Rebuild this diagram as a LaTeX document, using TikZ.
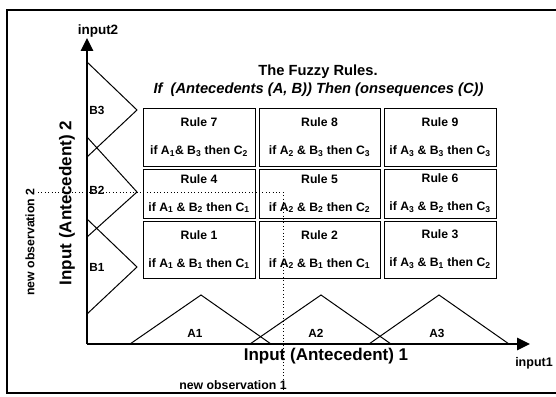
\documentclass[tikz,border=0pt]{standalone}
\usepackage{fontspec}
\setmainfont{Liberation Sans}
\usetikzlibrary{arrows.meta, positioning}

% premise of one fuzzy rule
\newcommand{\premise}[3]{if A\textsubscript{#1} \& B\textsubscript{#2} then C\textsubscript{#3}}

\begin{document}
\begin{tikzpicture}[x=1pt, y=-1pt,
  % ---- styles ----
  rulecell/.style 2 args={%
    draw=black, line width=1pt, minimum width=#1, minimum height=#2,
    inner sep=0pt, align=center, outer sep=0pt,
    font=\fontsize{12.2}{28}\selectfont\bfseries,
  },
  axisline/.style={line width=1.4pt, -{Triangle[length=13pt, width=12.5pt]}},
  mfline/.style={line width=1pt},
  obsline/.style={line width=0.9pt, dash pattern=on 1pt off 2.4pt},
  setlabel/.style={font=\fontsize{11.8}{13}\selectfont\bfseries, inner sep=1pt},
  axislabel/.style={font=\fontsize{17}{20}\selectfont\bfseries, inner sep=0pt},
  obslabel/.style={font=\fontsize{12.3}{14}\selectfont\bfseries, inner sep=0pt},
  inlabel/.style={font=\fontsize{12.5}{14}\selectfont\bfseries, inner sep=0pt},
  titlelabel/.style={font=\fontsize{14.7}{17}\selectfont\bfseries, inner sep=0pt},
]

\def\cwa{112pt}   % outer column width
\def\cwb{121pt}   % middle column width

\useasboundingbox (0,0) rectangle (556,396);

% ---- frame (right side runs off the page) ----
\draw[line width=2.5pt] (560,10) -- (7,10) -- (7,393) -- (560,393);

% =========================================================
% axes
% =========================================================
\coordinate (O)    at (87,344);
\coordinate (ytip) at (87,38);
\coordinate (xtip) at (530,344);

\draw[axisline] (O) -- (ytip);
\draw[axisline] (O) -- (xtip);

\node[inlabel, font=\fontsize{13.5}{15}\selectfont\bfseries] (in2) at (98,31) {input2};
\node[inlabel] (in1) at (534,363) {input1};

\node[axislabel, rotate=90] (L2) at (67,203) {Input (Antecedent) 2};
\node[axislabel]            (L1) at (326,356) {Input (Antecedent) 1};

% =========================================================
% membership functions  B1 B2 B3  (input 2)
% =========================================================
\draw[mfline] (87,62)  -- (137,110) -- (87,157);
\draw[mfline] (87,137) -- (137,192) -- (87,237);
\draw[mfline] (87,219) -- (137,267) -- (87,314);

\node[setlabel] (B3) at (97,110) {B3};
\node[setlabel] (B2) at (97,190) {B2};
\node[setlabel] (B1) at (97,267) {B1};

% =========================================================
% membership functions  A1 A2 A3  (input 1)
% =========================================================
\draw[mfline] (130,344) -- (201,295) -- (271,344);
\draw[mfline] (250,344) -- (321,295) -- (391,344);
\draw[mfline] (369,344) -- (439,295) -- (509,344);

\node[setlabel] (A1) at (195,333) {A1};
\node[setlabel] (A2) at (316,333) {A2};
\node[setlabel] (A3) at (437,333) {A3};

% =========================================================
% new observations
% =========================================================
\coordinate (obs2) at (38,192);
\coordinate (obsx) at (283,192);
\coordinate (obs1) at (283,390);

\draw[obsline] (obs2) -- (obsx) -- (obs1);

\node[obslabel, rotate=90] (N2) at (30,242) {new observation 2};
\node[obslabel]            (N1) at (233,385) {new observation 1};

% =========================================================
% title
% =========================================================
\node[titlelabel] (T1) at (318,72) {The Fuzzy Rules.};
\node[titlelabel] (T2) at (318.5,90) {\itshape If~~(Antecedents (A, B)) Then (onsequences (C))};

% =========================================================
% rule table  (rows: B3, B2, B1 -- columns: A1, A2, A3)
% =========================================================
\node[rulecell={\cwa}{58pt}] (R7) at (199,137)   {Rule 7\\if A\textsubscript{1}\& B\textsubscript{3} then C\textsubscript{2}};
\node[rulecell={\cwb}{58pt}] (R8) at (319.5,137) {Rule 8\\\premise{2}{3}{3}};
\node[rulecell={\cwa}{58pt}] (R9) at (440,137)   {Rule 9\\\premise{3}{3}{3}};

\node[rulecell={\cwa}{49pt}] (R4) at (199,193.5)   {Rule 4\\\premise{1}{2}{1}};
\node[rulecell={\cwb}{49pt}] (R5) at (319.5,193.5) {Rule 5\\\premise{2}{2}{2}};
\node[rulecell={\cwa}{49pt}] (R6) at (440,193.5)   {Rule 6\\\premise{3}{2}{3}};

\node[rulecell={\cwa}{57pt}] (R1) at (199,249.5)   {Rule 1\\\premise{1}{1}{1}};
\node[rulecell={\cwb}{57pt}] (R2) at (319.5,249.5) {Rule 2\\\premise{2}{1}{1}};
\node[rulecell={\cwa}{57pt}] (R3) at (440,249.5)   {Rule 3\\\premise{3}{1}{2}};

\end{tikzpicture}
\end{document}
